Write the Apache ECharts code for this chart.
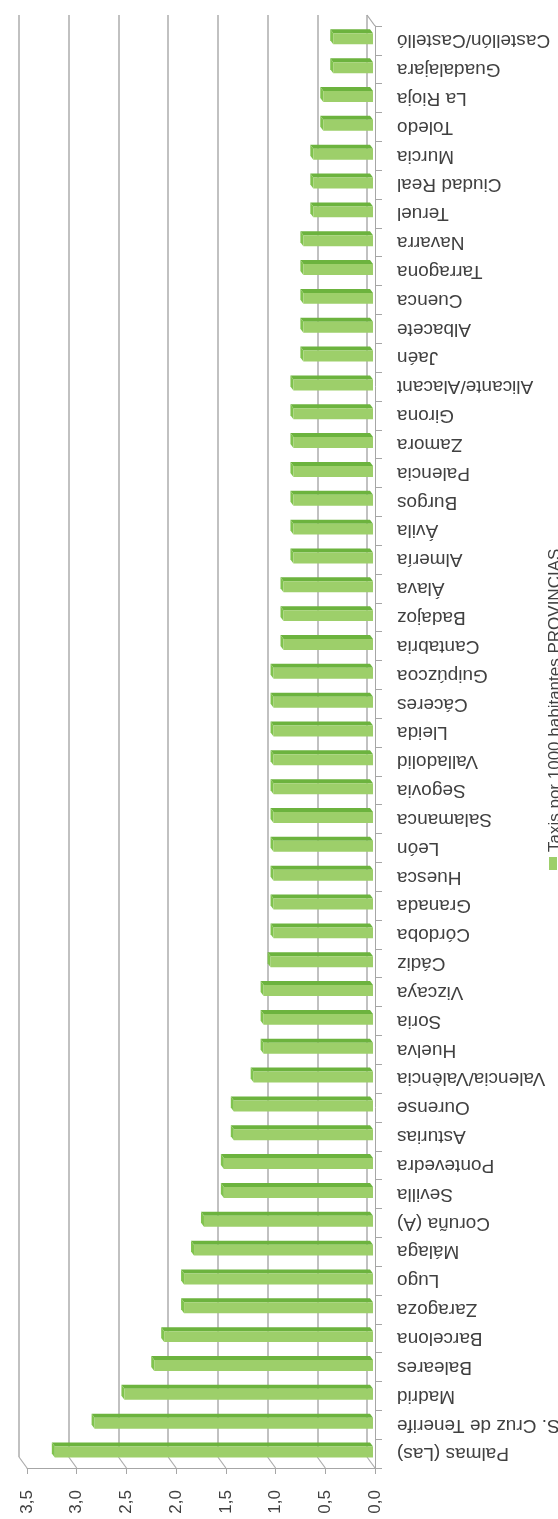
<!DOCTYPE html>
<html>
<head>
<meta charset="utf-8">
<script src="https://cdn.jsdelivr.net/npm/echarts@6/dist/echarts.min.js"></script>
<style>
html,body{margin:0;padding:0;background:#fff;}
#chart{width:558px;height:1519px;}
</style>
</head>
<body>
<div id="chart"></div>
<script>
// Categories, bottom (first) to top (last)
const provinces = [
  'Palmas (Las)','S. Cruz de Tenerife','Madrid','Baleares','Barcelona','Zaragoza','Lugo','Málaga',
  'Coruña (A)','Sevilla','Pontevedra','Asturias','Ourense','Valencia/València','Huelva','Soria',
  'Vizcaya','Cádiz','Córdoba','Granada','Huesca','León','Salamanca','Segovia','Valladolid','Lleida',
  'Cáceres','Guipúzcoa','Cantabria','Badajoz','Álava','Almería','Ávila','Burgos','Palencia','Zamora',
  'Girona','Alicante/Alacant','Jaén','Albacete','Cuenca','Tarragona','Navarra','Teruel','Ciudad Real',
  'Murcia','Toledo','La Rioja','Guadalajara','Castellón/Castelló'
];
const taxisPer1000 = [
  3.2, 2.8, 2.5, 2.2, 2.1, 1.9, 1.9, 1.8,
  1.7, 1.5, 1.5, 1.4, 1.4, 1.2, 1.1, 1.1,
  1.1, 1.03, 1.0, 1.0, 1.0, 1.0, 1.0, 1.0, 1.0, 1.0,
  1.0, 1.0, 0.9, 0.9, 0.9, 0.8, 0.8, 0.8, 0.8, 0.8,
  0.8, 0.8, 0.7, 0.7, 0.7, 0.7, 0.7, 0.6, 0.6,
  0.6, 0.5, 0.5, 0.4, 0.4
];
const valueTicks = [0, 0.5, 1, 1.5, 2, 2.5, 3, 3.5];
const valueTickLabels = ['0,0','0,5','1,0','1,5','2,0','2,5','3,0','3,5'];
const seriesName = 'Taxis por 1000 habitantes PROVINCIAS';

const FONT = '"Liberation Sans", Arial, sans-serif';
const TEXT = '#404040';
const AXIS = '#a6a6a6';
const GRID = '#acacac';
const FRONT = '#9dcf6a';
const TOP = '#6cb33e';
const END = '#80c34e';
// 3D depth offset of the back wall relative to the front plane
const DEPTH_X = -8, DEPTH_Y = -11;

const chart = echarts.init(document.getElementById('chart'), null, {renderer: 'canvas'});

function renderBar(params, api) {
  const idx = api.value(1);
  const p = api.coord([api.value(0), idx]);
  const p0 = api.coord([0, idx]);
  const band = api.size([0, 1])[1];
  const shift = -2;
  const c = p[1];
  const yTop = c - band * 0.245;
  const yBot = c + band * 0.135;
  const xl = p[0] + shift, xr = p0[0] + shift;
  const dx = -3, dy = -4;
  return {
    type: 'group',
    children: [
      {type: 'polygon', shape: {points: [[xl, yTop], [xr, yTop], [xr + dx, yTop + dy], [xl + dx, yTop + dy]]},
        style: {fill: TOP}},
      {type: 'polygon', shape: {points: [[xl, yTop], [xl, yBot], [xl + dx, yBot + dy], [xl + dx, yTop + dy]]},
        style: {fill: END}},
      {type: 'rect', shape: {x: xl, y: yTop, width: xr - xl, height: yBot - yTop},
        style: {fill: FRONT}}
    ]
  };
}

function renderConnector(params, api) {
  const v = api.value(0);
  const x = api.coord([v, 0])[0];
  const cs = params.coordSys;
  const bottom = cs.y + cs.height;
  const children = [
    {type: 'line', shape: {x1: x + DEPTH_X, y1: bottom + DEPTH_Y, x2: x, y2: bottom},
      style: {stroke: GRID, lineWidth: 1.2}}
  ];
  if (v === 0) {
    children.push({type: 'line', shape: {x1: x + DEPTH_X, y1: cs.y + DEPTH_Y, x2: x, y2: cs.y},
      style: {stroke: AXIS, lineWidth: 1.2}});
  }
  return {type: 'group', children};
}

const option = {
  backgroundColor: '#ffffff',
  animation: false,
  grid: [
    {left: 19, right: 191, top: 15, bottom: 62, containLabel: false, outerBoundsMode: 'none'},   // back wall
    {left: 27, right: 183, top: 26, bottom: 51, containLabel: false, outerBoundsMode: 'none'}    // front plane
  ],
  xAxis: [
    {
      gridIndex: 0, type: 'value', min: 0, max: 3.5, interval: 0.5, inverse: true,
      axisLine: {show: false}, axisTick: {show: false}, axisLabel: {show: false},
      splitLine: {show: true, lineStyle: {color: GRID, width: 1.5}}
    },
    {
      gridIndex: 1, type: 'value', min: 0, max: 3.5, interval: 0.5, inverse: true, position: 'bottom',
      axisLine: {show: true, lineStyle: {color: AXIS, width: 1}},
      axisTick: {show: true, length: 6, lineStyle: {color: AXIS}},
      splitLine: {show: false},
      axisLabel: {
        rotate: 90, margin: 22, fontSize: 17, fontFamily: FONT, color: TEXT,
        formatter: v => valueTickLabels[Math.round(v / 0.5)]
      }
    }
  ],
  yAxis: [
    {gridIndex: 0, type: 'value', show: false, min: 0, max: 1},
    {
      gridIndex: 1, type: 'category', data: provinces, position: 'right',
      axisLine: {show: true, lineStyle: {color: AXIS, width: 1}},
      axisTick: {show: true, length: 7, lineStyle: {color: AXIS}},
      axisLabel: {rotate: 180, margin: 22, fontSize: 19, fontFamily: FONT, color: TEXT, interval: 0}
    }
  ],
  series: [
    {
      name: seriesName, type: 'custom', xAxisIndex: 1, yAxisIndex: 1,
      renderItem: renderConnector, silent: true,
      data: valueTicks.map(v => [v, 0]), encode: {x: 0, y: 1}, z: 1
    },
    {
      name: seriesName, type: 'custom', xAxisIndex: 1, yAxisIndex: 1,
      renderItem: renderBar,
      data: taxisPer1000.map((v, i) => [v, i]), encode: {x: 0, y: 1}, z: 3
    }
  ],
  graphic: [
    {type: 'rect', left: 549, top: 857, shape: {width: 8, height: 13}, style: {fill: FRONT}},
    {type: 'text', x: 555, y: 852, rotation: Math.PI / 2,
      style: {text: seriesName, fontSize: 17, fontFamily: FONT, fill: TEXT, align: 'left', verticalAlign: 'middle'}}
  ]
};
chart.setOption(option);
</script>
</body>
</html>
